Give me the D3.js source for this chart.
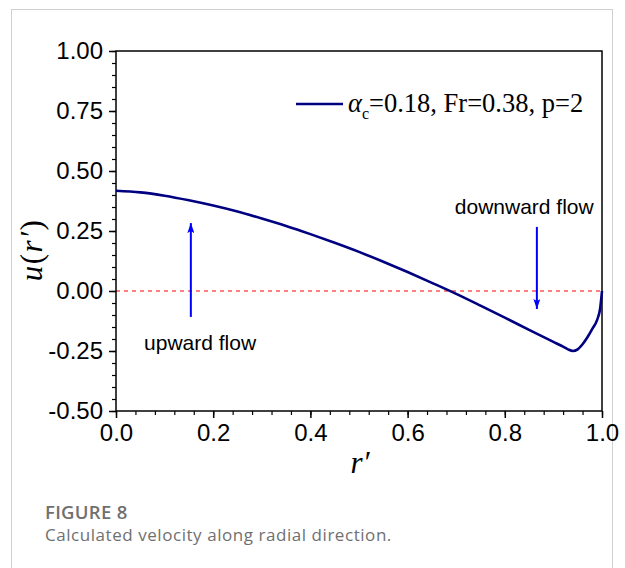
<!DOCTYPE html>
<html>
<head>
<meta charset="utf-8">
<script src="https://cdn.jsdelivr.net/npm/d3@7/dist/d3.min.js"></script>
<style>
  html, body { margin: 0; padding: 0; background: #fff; }
  svg { display: block; }
</style>
</head>
<body>
<svg id="chart" width="625" height="568"></svg>
<script>
// Radial velocity profile u(r') for alpha_c = 0.18, Fr = 0.38, p = 2
const rValues = [0, 0.05, 0.1, 0.15, 0.2, 0.25, 0.3, 0.35, 0.4, 0.45, 0.5, 0.55, 0.6, 0.65, 0.7,
                 0.75, 0.8, 0.85, 0.9, 0.92, 0.93, 0.94, 0.95, 0.96, 0.97, 0.98, 0.99, 0.996, 1.0];
const uValues = [0.418, 0.411, 0.397, 0.378, 0.356, 0.331, 0.302, 0.271, 0.237, 0.201, 0.163, 0.122, 0.079, 0.034, -0.012,
                 -0.061, -0.111, -0.162, -0.212, -0.232, -0.243, -0.25, -0.243, -0.222, -0.193, -0.158, -0.12, -0.075, 0.0];

const xTicks = [0, 0.2, 0.4, 0.6, 0.8, 1.0];
const yTicks = [-0.5, -0.25, 0, 0.25, 0.5, 0.75, 1.0];
const xMinor = d3.range(0, 1.0001, 0.04);
const yMinor = d3.range(-0.5, 1.0001, 0.05);

const legendLabel = "=0.18, Fr=0.38, p=2";
const upLabel = "upward flow";
const downLabel = "downward flow";
// arrows: [r, u at tail, u at head]
const upArrow = [0.154, -0.108, 0.283];
const downArrow = [0.866, 0.267, -0.075];

const svg = d3.select("#chart");

// card outline
svg.append("rect")
  .attr("x", 11.5).attr("y", 9.5)
  .attr("width", 601).attr("height", 600)
  .attr("fill", "none").attr("stroke", "#d0d0d0").attr("stroke-width", 1);

const plotL = 116, plotR = 602, plotT = 51, plotB = 411;
const x = d3.scaleLinear().domain([0, 1]).range([plotL, plotR]);
const y = d3.scaleLinear().domain([-0.5, 1]).range([plotB, plotT]);

// dashed zero line
svg.append("line")
  .attr("x1", x(0)).attr("x2", x(1)).attr("y1", y(0)).attr("y2", y(0))
  .attr("stroke", "#ff0000").attr("stroke-width", 1).attr("stroke-dasharray", "4,4");

// minor ticks
svg.append("g").attr("transform", `translate(${plotL},0)`)
  .call(d3.axisLeft(y).tickValues(yMinor).tickSize(4).tickFormat(""))
  .call(g => g.select(".domain").remove())
  .call(g => g.selectAll("line").attr("stroke-width", 1.2));
svg.append("g").attr("transform", `translate(0,${plotB})`)
  .call(d3.axisBottom(x).tickValues(xMinor).tickSize(4).tickFormat(""))
  .call(g => g.select(".domain").remove())
  .call(g => g.selectAll("line").attr("stroke-width", 1.2));

// major ticks with labels
const yAxis = svg.append("g").attr("transform", `translate(${plotL},0)`)
  .call(d3.axisLeft(y).tickValues(yTicks).tickSize(7).tickPadding(6).tickFormat(d3.format(".2f")));
const xAxis = svg.append("g").attr("transform", `translate(0,${plotB})`)
  .call(d3.axisBottom(x).tickValues(xTicks).tickSize(7).tickPadding(6).tickFormat(d3.format(".1f")));
[yAxis, xAxis].forEach(a => {
  a.select(".domain").remove();
  a.selectAll("line").attr("stroke", "#000").attr("stroke-width", 1.5);
  a.selectAll("text").attr("font-family", "Liberation Sans, Arial, sans-serif")
    .attr("font-size", 24).attr("fill", "#000");
});
yAxis.selectAll("text").text(d => d3.format(".2f")(d).replace("−", "-"));

// frame
svg.append("rect")
  .attr("x", plotL).attr("y", plotT)
  .attr("width", plotR - plotL).attr("height", plotB - plotT)
  .attr("fill", "none").attr("stroke", "#000").attr("stroke-width", 1.5);

// curve
const line = d3.line().x((d, i) => x(rValues[i])).y(d => y(d)).curve(d3.curveMonotoneX);
svg.append("path")
  .datum(uValues)
  .attr("d", line)
  .attr("fill", "none").attr("stroke", "#000080").attr("stroke-width", 2.6)
  .attr("stroke-linejoin", "round");

// flow arrows
const defs = svg.append("defs");
defs.append("marker").attr("id", "head")
  .attr("viewBox", "0 0 10 10").attr("refX", 10).attr("refY", 5)
  .attr("markerWidth", 10).attr("markerHeight", 7).attr("markerUnits", "userSpaceOnUse")
  .attr("orient", "auto").attr("preserveAspectRatio", "none")
  .append("path").attr("d", "M0,0 L10,5 L0,10 L2,5 z").attr("fill", "#0000ff");
[upArrow, downArrow].forEach(a => {
  svg.append("line")
    .attr("x1", x(a[0])).attr("x2", x(a[0]))
    .attr("y1", y(a[1])).attr("y2", y(a[2]))
    .attr("stroke", "#0000ff").attr("stroke-width", 2)
    .attr("marker-end", "url(#head)");
});

svg.append("text").attr("x", x(0.173)).attr("y", 350)
  .attr("text-anchor", "middle")
  .attr("font-family", "Liberation Sans, Arial, sans-serif").attr("font-size", 21)
  .text(upLabel);
svg.append("text").attr("x", x(0.84)).attr("y", 214)
  .attr("text-anchor", "middle")
  .attr("font-family", "Liberation Sans, Arial, sans-serif").attr("font-size", 21)
  .text(downLabel);

// legend
svg.append("line").attr("x1", 296).attr("x2", 343).attr("y1", 104).attr("y2", 104)
  .attr("stroke", "#000080").attr("stroke-width", 2.6);
const lt = svg.append("text").attr("x", 348).attr("y", 112)
  .attr("font-family", "Liberation Serif, Times New Roman, serif").attr("font-size", 26.5);
lt.append("tspan").attr("font-style", "italic").text("α");
lt.append("tspan").attr("font-size", 16).attr("dy", 7).text("c");
lt.append("tspan").attr("dy", -7).text(legendLabel);

// axis titles
svg.append("text").attr("x", 360).attr("y", 473)
  .attr("text-anchor", "middle")
  .attr("font-family", "Liberation Serif, Times New Roman, serif").attr("font-size", 31)
  .attr("font-style", "italic").text("r′");
const yt = svg.append("text")
  .attr("transform", "translate(42,250) rotate(-90)")
  .attr("text-anchor", "middle")
  .attr("font-family", "Liberation Serif, Times New Roman, serif").attr("font-size", 31)
  .attr("letter-spacing", 1.5);
yt.append("tspan").attr("font-style", "italic").text("u");
yt.append("tspan").text("(");
yt.append("tspan").attr("font-style", "italic").text("r′");
yt.append("tspan").text(")");

// caption
svg.append("text").attr("x", 45).attr("y", 519)
  .attr("font-family", "Open Sans, Lato, sans-serif").attr("font-size", 18.5)
  .attr("font-weight", 600).attr("fill", "#707070").attr("letter-spacing", 0.3).text("FIGURE 8");
svg.append("text").attr("x", 45).attr("y", 541)
  .attr("font-family", "Open Sans, Lato, sans-serif").attr("font-size", 17)
  .attr("letter-spacing", 0.55)
  .attr("fill", "#707070").text("Calculated velocity along radial direction.");
</script>
</body>
</html>
